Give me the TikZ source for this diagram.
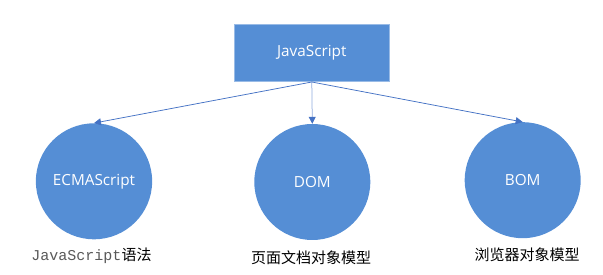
\documentclass[tikz,border=0pt]{standalone}
\usepackage{fontspec}
\setmainfont{Open Sans}
\newfontfamily\cjkfont{Noto Sans CJK SC}
\newfontfamily\monofont{Liberation Mono}
\usetikzlibrary{arrows.meta,shapes.geometric}
\definecolor{boxblue}{HTML}{558ED5}
\definecolor{linkblue}{HTML}{4472C4}
\definecolor{midline}{HTML}{8FAADC}
\begin{document}
\begin{tikzpicture}[x=1pt,y=-1pt,
  shapetext/.style={text=white,font=\fontsize{15.3}{18}\selectfont},
  topbox/.style={rectangle,fill=boxblue,draw=boxblue!60!white,line width=0.6pt,minimum width=155pt,minimum height=57.4pt,inner sep=0pt,shapetext},
  blob/.style={ellipse,fill=boxblue,minimum width=116pt,minimum height=116pt,inner sep=0pt,shapetext},
  caption/.style={inner sep=0pt,text=black,font=\fontsize{15}{18}\selectfont\cjkfont},
  link/.style={draw=linkblue,line width=0.75pt,-{Triangle[length=7pt,width=7pt,color=linkblue]}}
]
\useasboundingbox (0,0) rectangle (603,275);
\node[topbox] (js) at (311.8,53) {JavaScript};
\node[blob] (ecma) at (94,181.3) {ECMAScript};
\node[blob] (dom) at (312.3,182) {DOM};
\node[blob] (bom) at (522.7,180.2) {BOM};
\node[caption] (l1) at (91.5,255.5) {{\monofont\color{black!65}JavaScript}语法};
\node[caption] (l2) at (311,258) {页面文档对象模型};
\node[caption] (l3) at (527,255) {浏览器对象模型};
\draw[link] (js.south) -- (ecma.north);
\draw[link,draw=midline] (js.south) -- (dom.north);
\draw[link] (js.south) -- (bom.north);
\end{tikzpicture}
\end{document}
